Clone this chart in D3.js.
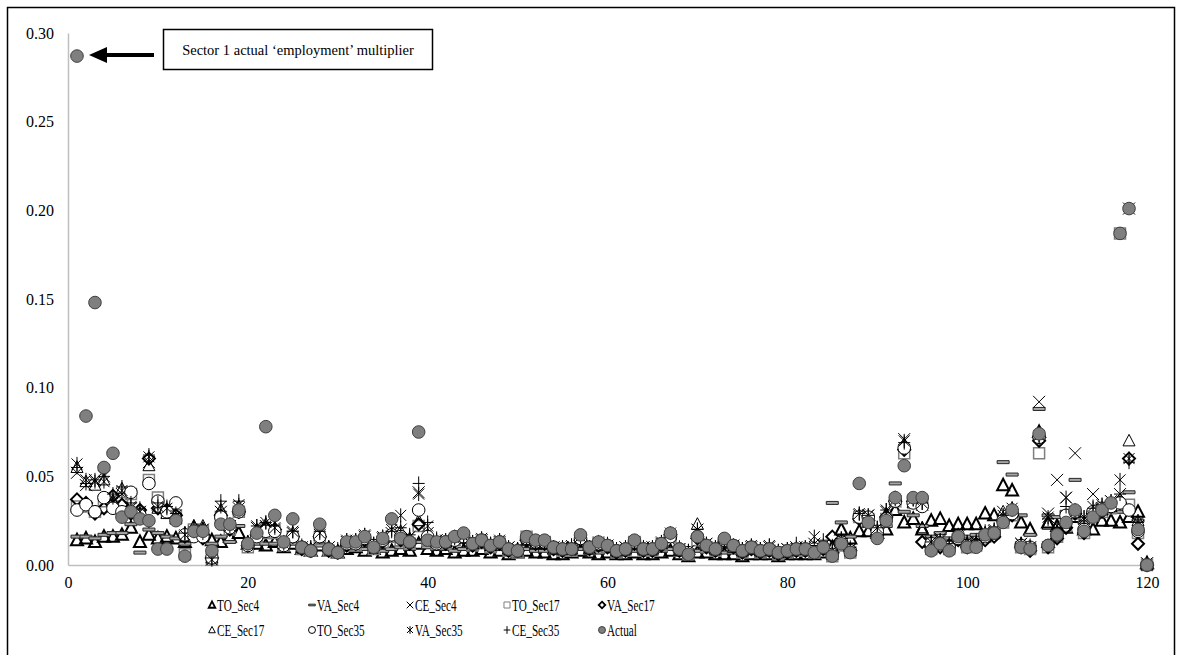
<!DOCTYPE html>
<html>
<head>
<meta charset="utf-8">
<script src="https://cdn.jsdelivr.net/npm/d3@7"></script>
<style>
  body { margin: 0; background: #fff; }
  svg { display: block; }
  .axis path { stroke: #bfbfbf; stroke-width: 1.5; }
</style>
</head>
<body>
<svg id="chart" width="1182" height="655"></svg>
<script>
// employment multipliers per sector (1..120)

const sectors = d3.range(1, 121);

const actual = [
  .287,.084,.148,.055,.063,.027,.030,.026,.025,.009,
  .009,.025,.005,.019,.019,.008,.023,.023,.031,.012,
  .018,.078,.028,.013,.026,.010,.008,.023,.009,.007,
  .013,.013,.016,.010,.015,.026,.015,.013,.075,.014,
  .013,.013,.016,.018,.012,.014,.011,.013,.009,.008,
  .016,.014,.014,.010,.009,.009,.017,.010,.013,.011,
  .008,.009,.014,.009,.009,.012,.018,.009,.006,.016,
  .011,.009,.015,.011,.008,.010,.008,.009,.007,.008,
  .009,.009,.007,.010,.005,.012,.007,.046,.024,.015,
  .025,.038,.056,.038,.038,.008,.012,.008,.016,.010,
  .010,.017,.018,.024,.031,.010,.009,.074,.011,.017,
  .024,.031,.019,.027,.031,.035,.187,.201,.020,.000
];

const toSec4 = [
  .014,.015,.013,.016,.016,.017,.021,.013,.017,.015,
  .016,.015,.013,.021,.020,.014,.013,.016,.018,.012,
  .012,.011,.013,.010,.012,.009,.008,.011,.008,.007,
  .009,.010,.008,.009,.007,.008,.009,.008,.012,.009,
  .008,.009,.007,.008,.008,.009,.007,.008,.006,.007,
  .008,.007,.007,.006,.006,.007,.008,.007,.006,.007,
  .006,.006,.007,.006,.006,.007,.008,.006,.005,.007,
  .007,.006,.006,.006,.005,.006,.006,.006,.005,.006,
  .006,.006,.006,.007,.010,.020,.015,.019,.019,.018,
  .020,.031,.024,.026,.020,.025,.026,.022,.023,.023,
  .023,.029,.028,.045,.042,.024,.020,.075,.024,.022,
  .021,.027,.020,.020,.025,.025,.024,.027,.030,.001
];

const vaSec4 = [
  .016,.016,.015,.017,.018,.018,.023,.007,.020,.018,
  .016,.015,.012,.015,.015,.012,.016,.013,.022,.012,
  .012,.012,.012,.010,.012,.010,.009,.011,.009,.008,
  .010,.010,.009,.010,.008,.009,.010,.009,.013,.010,
  .009,.009,.008,.009,.009,.010,.008,.009,.007,.008,
  .009,.008,.008,.007,.007,.008,.009,.008,.007,.008,
  .007,.007,.008,.007,.007,.008,.009,.007,.006,.008,
  .008,.007,.007,.007,.006,.007,.007,.007,.006,.007,
  .007,.007,.007,.008,.035,.024,.016,.028,.022,.018,
  .022,.046,.030,.028,.022,.016,.018,.015,.017,.016,
  .017,.018,.020,.058,.051,.028,.017,.088,.028,.027,
  .030,.048,.024,.030,.033,.034,.030,.041,.025,.001
];

const ceSec4 = [
  .052,.045,.048,.050,.037,.040,.032,.030,.058,.034,
  .030,.027,.016,.018,.020,.003,.030,.022,.032,.012,
  .021,.022,.020,.012,.018,.010,.010,.017,.010,.008,
  .013,.013,.016,.012,.015,.018,.020,.016,.041,.018,
  .014,.013,.014,.015,.012,.014,.012,.013,.010,.009,
  .013,.012,.012,.010,.010,.010,.013,.010,.012,.011,
  .009,.010,.012,.010,.010,.012,.016,.009,.008,.020,
  .012,.010,.012,.011,.009,.010,.009,.010,.008,.009,
  .010,.010,.012,.011,.008,.014,.009,.028,.028,.020,
  .030,.036,.071,.036,.034,.012,.015,.011,.016,.012,
  .013,.018,.019,.030,.030,.012,.010,.092,.029,.048,
  .038,.063,.026,.040,.032,.036,.040,.201,.022,.001
];

const toSec17 = [
  .033,.033,.030,.036,.033,.035,.040,.028,.048,.038,
  .031,.028,.006,.020,.019,.003,.027,.020,.030,.010,
  .016,.018,.018,.011,.016,.009,.008,.015,.008,.007,
  .011,.011,.014,.009,.013,.016,.014,.012,.022,.014,
  .012,.012,.014,.016,.011,.013,.010,.012,.008,.007,
  .016,.013,.013,.009,.008,.008,.015,.009,.012,.010,
  .007,.008,.013,.008,.008,.011,.016,.008,.006,.014,
  .010,.008,.013,.010,.007,.009,.007,.008,.006,.007,
  .008,.008,.007,.009,.005,.011,.007,.027,.026,.018,
  .026,.036,.063,.036,.036,.009,.012,.009,.015,.010,
  .011,.016,.018,.024,.028,.010,.009,.063,.010,.016,
  .022,.029,.018,.028,.030,.032,.187,.034,.018,.000
];

const vaSec17 = [
  .037,.035,.029,.032,.039,.034,.029,.031,.060,.032,
  .031,.028,.016,.018,.015,.004,.028,.020,.030,.011,
  .017,.021,.020,.011,.016,.009,.008,.016,.008,.007,
  .011,.012,.014,.010,.013,.017,.014,.012,.023,.015,
  .012,.012,.014,.015,.011,.013,.010,.012,.008,.008,
  .014,.012,.012,.009,.008,.009,.014,.009,.011,.010,
  .007,.008,.012,.008,.008,.011,.017,.008,.006,.015,
  .010,.008,.013,.010,.007,.009,.007,.008,.006,.007,
  .008,.008,.008,.009,.016,.013,.008,.026,.025,.017,
  .027,.036,.065,.036,.013,.010,.010,.011,.014,.010,
  .012,.014,.016,.025,.028,.010,.008,.070,.010,.015,
  .021,.029,.018,.029,.030,.033,.035,.060,.012,.000
];

const ceSec17 = [
  .055,.047,.045,.048,.036,.043,.030,.029,.056,.032,
  .029,.026,.018,.022,.022,.004,.031,.022,.033,.013,
  .020,.023,.021,.012,.018,.010,.009,.018,.010,.008,
  .013,.013,.016,.011,.015,.018,.019,.015,.025,.017,
  .013,.013,.015,.016,.012,.014,.011,.013,.009,.009,
  .014,.012,.012,.009,.009,.009,.015,.009,.012,.011,
  .008,.009,.012,.009,.009,.012,.017,.008,.007,.023,
  .011,.009,.012,.010,.008,.009,.008,.009,.007,.008,
  .009,.009,.010,.010,.006,.014,.008,.028,.026,.019,
  .029,.037,.068,.035,.021,.013,.013,.011,.015,.012,
  .012,.018,.019,.030,.032,.012,.010,.075,.023,.019,
  .024,.030,.020,.030,.031,.033,.037,.070,.025,.000
];

const toSec35 = [
  .031,.034,.030,.038,.032,.030,.041,.028,.046,.036,
  .030,.035,.017,.016,.016,.004,.027,.021,.030,.011,
  .016,.019,.019,.011,.016,.010,.008,.016,.009,.007,
  .012,.012,.015,.011,.014,.017,.016,.013,.031,.016,
  .012,.013,.014,.016,.012,.014,.011,.013,.009,.008,
  .015,.013,.013,.010,.009,.009,.015,.010,.012,.011,
  .008,.009,.013,.009,.009,.012,.016,.009,.007,.016,
  .011,.009,.014,.011,.008,.010,.008,.009,.007,.008,
  .009,.009,.009,.010,.006,.013,.008,.027,.027,.019,
  .026,.036,.066,.035,.033,.012,.012,.010,.015,.011,
  .011,.016,.018,.025,.029,.011,.010,.072,.011,.017,
  .028,.030,.020,.030,.032,.033,.035,.031,.019,.000
];

const vaSec35 = [
  .057,.048,.047,.047,.038,.042,.033,.030,.061,.033,
  .032,.028,.017,.019,.020,.003,.033,.022,.034,.012,
  .022,.024,.021,.012,.019,.010,.010,.018,.010,.008,
  .014,.014,.017,.012,.016,.020,.028,.016,.040,.022,
  .014,.014,.015,.016,.013,.015,.012,.014,.010,.009,
  .014,.013,.013,.010,.010,.011,.016,.010,.013,.011,
  .009,.010,.013,.010,.010,.013,.018,.009,.008,.020,
  .012,.010,.013,.011,.009,.011,.009,.011,.008,.009,
  .010,.010,.016,.011,.008,.015,.009,.029,.028,.021,
  .031,.037,.070,.037,.035,.013,.014,.011,.017,.013,
  .013,.019,.020,.028,.032,.012,.010,.073,.027,.022,
  .038,.030,.027,.033,.034,.036,.048,.060,.024,.001
];

const ceSec35 = [
  .055,.046,.048,.050,.040,.044,.035,.032,.062,.035,
  .033,.029,.018,.020,.018,.004,.036,.023,.036,.013,
  .022,.024,.022,.013,.019,.011,.010,.019,.010,.009,
  .014,.014,.017,.012,.016,.019,.021,.017,.046,.024,
  .015,.014,.016,.017,.013,.015,.012,.014,.010,.009,
  .015,.013,.013,.010,.010,.011,.016,.010,.013,.012,
  .009,.010,.013,.010,.010,.013,.018,.010,.008,.020,
  .012,.010,.013,.011,.009,.011,.009,.011,.008,.009,
  .012,.010,.011,.014,.008,.015,.010,.029,.028,.021,
  .031,.038,.069,.037,.035,.013,.014,.012,.017,.013,
  .014,.018,.020,.028,.031,.012,.011,.071,.026,.021,
  .033,.031,.027,.032,.034,.036,.040,.058,.024,.001
];

const xTicks = [0, 20, 40, 60, 80, 100, 120];
const yTicks = [0, 0.05, 0.10, 0.15, 0.20, 0.25, 0.30];

const SERIF = '"Liberation Serif", "Times New Roman", serif';

// marker shapes, drawn around 0,0 (k scales them for the legend)
const shapes = {
  triangle: k => `M0,${-6.5*k}L${6*k},${5*k}L${-6*k},${5*k}Z`,
  dash: k => `M${-6*k},${-1.5*k}H${6*k}V${1.5*k}H${-6*k}Z`,
  cross: k => `M${-6*k},${-6*k}L${6*k},${6*k}M${-6*k},${6*k}L${6*k},${-6*k}`,
  square: k => `M${-5.5*k},${-5.5*k}H${5.5*k}V${5.5*k}H${-5.5*k}Z`,
  diamond: k => `M0,${-6*k}L${6*k},0L0,${6*k}L${-6*k},0Z`,
  circle: k => `M${6.3*k},0A${6.3*k},${6.3*k} 0 1,1 ${-6.3*k},0A${6.3*k},${6.3*k} 0 1,1 ${6.3*k},0Z`,
  star: k => `M${-5.5*k},${-5.5*k}L${5.5*k},${5.5*k}M${-5.5*k},${5.5*k}L${5.5*k},${-5.5*k}M0,${-7*k}V${7*k}`,
  plus: k => `M${-6*k},0H${6*k}M0,${-7*k}V${7*k}`
};

const series = [
  { name: 'TO_Sec4',  values: toSec4,  shape: 'triangle', fill: 'none', stroke: '#000', width: 2 },
  { name: 'VA_Sec4',  values: vaSec4,  shape: 'dash',     fill: '#a6a6a6', stroke: '#262626', width: 1 },
  { name: 'CE_Sec4',  values: ceSec4,  shape: 'cross',    fill: 'none', stroke: '#000', width: 1 },
  { name: 'TO_Sec17', values: toSec17, shape: 'square',   fill: 'none', stroke: '#7f7f7f', width: 1.5 },
  { name: 'VA_Sec17', values: vaSec17, shape: 'diamond',  fill: 'none', stroke: '#000', width: 2 },
  { name: 'CE_Sec17', values: ceSec17, shape: 'triangle', fill: 'none', stroke: '#000', width: 1 },
  { name: 'TO_Sec35', values: toSec35, shape: 'circle',   fill: '#fff', stroke: '#000', width: 1 },
  { name: 'VA_Sec35', values: vaSec35, shape: 'star',     fill: 'none', stroke: '#000', width: 1 },
  { name: 'CE_Sec35', values: ceSec35, shape: 'plus',     fill: 'none', stroke: '#000', width: 1 },
  { name: 'Actual',   values: actual,  shape: 'circle',   fill: '#7f7f7f', stroke: '#404040', width: 1 }
];

const svg = d3.select('#chart');

// outer frame of the figure
svg.append('rect')
  .attr('x', 7.5).attr('y', 7.5)
  .attr('width', 1167).attr('height', 700)
  .attr('fill', 'none').attr('stroke', '#000').attr('stroke-width', 1.5);

const x = d3.scaleLinear().domain([0, 120]).range([68, 1147]);
const y = d3.scaleLinear().domain([0, 0.30]).range([565, 33]);

svg.append('g')
  .attr('class', 'axis')
  .attr('transform', 'translate(68,0)')
  .call(d3.axisLeft(y).tickValues(yTicks).tickFormat(d3.format('.2f')).tickSize(0).tickPadding(14))
  .attr('font-family', SERIF)
  .attr('font-size', 16);

svg.append('g')
  .attr('class', 'axis')
  .attr('transform', 'translate(0,565)')
  .call(d3.axisBottom(x).tickValues(xTicks).tickSize(0).tickPadding(12))
  .attr('font-family', SERIF)
  .attr('font-size', 16);

// markers, in series order so Actual ends up on top
series.forEach(s => {
  svg.append('g')
    .selectAll('path')
    .data(s.values.map((v, i) => ({ sector: sectors[i], v })))
    .join('path')
    .attr('transform', d => `translate(${x(d.sector)},${y(d.v)})`)
    .attr('d', shapes[s.shape](1))
    .attr('fill', s.fill)
    .attr('stroke', s.stroke)
    .attr('stroke-width', s.width);
});

// annotation for sector 1
svg.append('rect')
  .attr('x', 163.5).attr('y', 29.5)
  .attr('width', 269).attr('height', 40)
  .attr('fill', '#fff').attr('stroke', '#000').attr('stroke-width', 1.5);

svg.append('text')
  .attr('x', 298).attr('y', 54.5)
  .attr('text-anchor', 'middle')
  .attr('font-family', SERIF)
  .attr('font-size', 14.5)
  .text('Sector 1 actual \u2018employment\u2019 multiplier');

svg.append('line')
  .attr('x1', 154).attr('y1', 55)
  .attr('x2', 104).attr('y2', 55)
  .attr('stroke', '#000').attr('stroke-width', 4);

svg.append('path')
  .attr('d', 'M89,55L107,47L107,63Z')
  .attr('fill', '#000');

// legend, two rows of five
const legendCols = [212, 312, 410, 507, 602];
const legendRows = [605, 630];

const legend = svg.append('g')
  .attr('font-family', SERIF)
  .attr('font-size', 16);

series.forEach((s, i) => {
  const lx = legendCols[i % 5];
  const ly = legendRows[Math.floor(i / 5)];
  legend.append('path')
    .attr('transform', `translate(${lx},${ly})`)
    .attr('d', shapes[s.shape](0.55))
    .attr('fill', s.fill)
    .attr('stroke', s.stroke)
    .attr('stroke-width', s.width === 2 ? 1.8 : 1);
  legend.append('text')
    .attr('transform', `translate(${lx + 5},${ly + 5.5}) scale(0.7,1)`)
    .text(s.name);
});
</script>
</body>
</html>
